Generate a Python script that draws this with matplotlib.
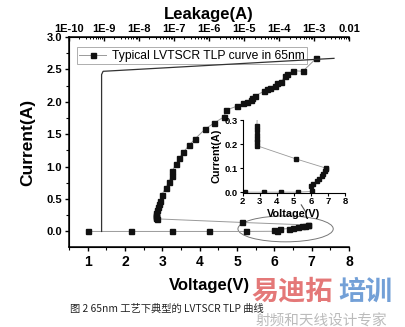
import matplotlib
matplotlib.use('Agg')
import matplotlib.pyplot as plt
from matplotlib.patches import Ellipse
from matplotlib.ticker import MultipleLocator, LogLocator, NullFormatter

plt.rcParams['font.family'] = ['Liberation Sans', 'DejaVu Sans']

# TLP curve: voltage (V) and current (A), in measurement order
volt = [1.0, 2.15, 3.25, 4.24, 5.23, 6.08,
        5.99, 6.14, 6.38, 6.50, 6.63, 6.73, 6.83, 6.89, 6.90,
        5.13, 2.86, 2.84, 2.83, 2.83, 2.83, 2.84,
        2.86, 2.89, 2.92, 2.95, 2.98, 3.09, 3.18, 3.25, 3.27, 3.37, 3.45,
        3.56, 3.72, 3.88, 4.15, 4.38, 4.66, 4.70, 4.99, 5.17, 5.26, 5.37,
        5.41, 5.49, 5.71, 5.80, 5.87, 6.02, 6.07, 6.18, 6.29, 6.35, 6.51,
        6.76, 7.12]
curr = [0.0, 0.0, 0.0, 0.0, 0.0, 0.003,
        0.025, 0.033, 0.045, 0.055, 0.066, 0.077, 0.087, 0.097, 0.100,
        0.139, 0.194, 0.210, 0.224, 0.238, 0.259, 0.279,
        0.33, 0.37, 0.42, 0.47, 0.56, 0.67, 0.77, 0.86, 0.94, 1.04, 1.13,
        1.22, 1.33, 1.43, 1.58, 1.67, 1.77, 1.87, 1.93, 1.98, 2.00, 2.03,
        2.06, 2.09, 2.16, 2.19, 2.21, 2.25, 2.29, 2.31, 2.40, 2.43, 2.48,
        2.47, 2.67]

# leakage (A) vs current
leak = [8.6e-10, 8.6e-10, 9.5e-10, 3.7e-3]
leak_curr = [0.0, 2.42, 2.47, 2.67]

leak_ticks = [1e-10, 1e-9, 1e-8, 1e-7, 1e-6, 1e-5, 1e-4, 1e-3, 1e-2]
leak_labels = ['1E-10', '1E-9', '1E-8', '1E-7', '1E-6', '1E-5', '1E-4', '1E-3', '0.01']

fig = plt.figure(figsize=(4.05, 3.27), dpi=100)
ax = fig.add_axes([0.170, 0.2446, 0.692, 0.6424])

ax.plot(volt, curr, color='#9a9a9a', lw=0.7, marker='s', ms=3.6,
        mfc='#111111', mec='#111111', label='Typical LVTSCR TLP curve in 65nm')
ax.set_xlim(0.5, 8)
ax.set_ylim(-0.24, 3.0)
ax.xaxis.set_major_locator(MultipleLocator(1))
ax.xaxis.set_minor_locator(MultipleLocator(0.5))
ax.yaxis.set_minor_locator(MultipleLocator(0.25))
ax.set_yticks([0, 0.5, 1.0, 1.5, 2.0, 2.5, 3.0])
ax.set_yticklabels(['0.0', '0.5', '1.0', '1.5', '2.0', '2.5', '3.0'])
ax.tick_params(axis='x', which='major', direction='out', length=3, width=1,
               labelsize=10, pad=3)
ax.tick_params(axis='x', which='minor', direction='out', length=2, width=0.8)
ax.tick_params(axis='y', which='major', direction='out', length=3, width=1,
               labelsize=8, pad=2)
ax.tick_params(axis='y', which='minor', direction='out', length=2, width=0.8)
for lab in ax.get_xticklabels() + ax.get_yticklabels():
    lab.set_fontweight('bold')
ax.spines['right'].set_visible(False)
for s in ['left', 'bottom', 'top']:
    ax.spines[s].set_linewidth(1.1)
ax.set_xlabel('Voltage(V)', fontsize=12, fontweight='bold', labelpad=6)
ax.set_ylabel('Current(A)', fontsize=12.5, fontweight='bold', labelpad=8)

ax.add_patch(Ellipse((6.3, 0.04), 2.55, 0.40, fill=False, ec='#777777',
                     lw=0.7, clip_on=False))
ax.plot([6.72, 6.85], [0.41, 0.29], color='#555555', lw=0.8)

leg = ax.legend(loc='upper left', bbox_to_anchor=(0.19, 0.855),
                bbox_transform=fig.transFigure, fontsize=8.7, frameon=True,
                fancybox=False, edgecolor='#999999', borderpad=0.2,
                handlelength=2.2, handletextpad=0.5, borderaxespad=0)
leg.get_frame().set_linewidth(0.7)

top = ax.twiny()
top.set_xscale('log')
top.set_xlim(1e-10, 1e-2)
top.plot(leak, leak_curr, color='#333333', lw=0.9)
top.set_xticks(leak_ticks)
top.set_xticklabels(leak_labels)
top.xaxis.set_minor_locator(LogLocator(base=10, subs=range(2, 10), numticks=20))
top.xaxis.set_minor_formatter(NullFormatter())
top.tick_params(axis='x', which='major', direction='in', length=3, width=1,
                labelsize=8, pad=2)
top.tick_params(axis='x', which='minor', direction='in', length=1.5, width=0.7)
for lab in top.get_xticklabels():
    lab.set_fontweight('bold')
top.spines['right'].set_visible(False)
top.set_xlabel('Leakage(A)', fontsize=12, fontweight='bold', labelpad=4)

# inset: zoom of the snapback region
ins = fig.add_axes([0.599, 0.411, 0.253, 0.222])
ins.patch.set_alpha(0)
ins.plot(volt, curr, color='#9a9a9a', lw=0.6, marker='s', ms=2.3,
         mfc='#111111', mec='#111111')
ins.set_xlim(2, 8)
ins.set_ylim(-0.002, 0.302)
ins.set_xticks([2, 3, 4, 5, 6, 7, 8])
ins.set_yticks([0.0, 0.1, 0.2, 0.3])
ins.set_yticklabels(['0.0', '0.1', '0.2', '0.3'])
ins.tick_params(direction='out', length=2, width=0.8, labelsize=6.8, pad=1.5)
for lab in ins.get_xticklabels() + ins.get_yticklabels():
    lab.set_fontweight('bold')
ins.spines['right'].set_visible(False)
ins.spines['top'].set_visible(False)
ins.set_xlabel('Voltage(V)', fontsize=7.8, fontweight='bold', labelpad=1.5)
ins.set_ylabel('Current(A)', fontsize=7.8, fontweight='bold', labelpad=2)

fig.text(0.172, 0.047, '图 2 65nm 工艺下典型的 LVTSCR TLP 曲线', fontsize=7.4,
         family=['Noto Sans CJK SC', 'DejaVu Sans'], color='#222222')
fig.text(0.62, 0.083, '易迪拓', fontsize=19.5, color='#e06060', alpha=0.85,
         family=['Noto Sans CJK SC'], fontweight='bold')
fig.text(0.835, 0.083, '培训', fontsize=19.5, color='#5a8fd0', alpha=0.85,
         family=['Noto Sans CJK SC'], fontweight='bold')
fig.text(0.63, 0.005, '射频和天线设计专家', fontsize=10.5, color='#bbbbbb',
         family=['Noto Sans CJK SC'])

fig.savefig('out.png', dpi=100)
